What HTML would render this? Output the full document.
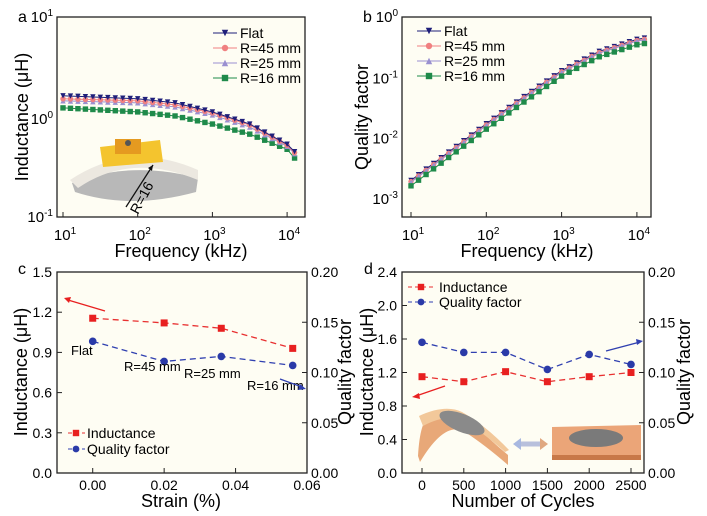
<!DOCTYPE html>
<html><head><meta charset="utf-8"><style>
body{margin:0;background:#fff;width:707px;height:511px;overflow:hidden}
svg{font-family:"Liberation Sans",sans-serif}
</style></head><body>
<svg id="s" width="707" height="511" xmlns="http://www.w3.org/2000/svg"></svg>
<script>
const S=document.getElementById('s');let h='';
function T(x,y,t,sz,anc,extra){h+=`<text x="${x}" y="${y}" font-size="${sz}" text-anchor="${anc||'start'}" ${extra||''}>${t}</text>`;}
function P(base,e){return base+'<tspan dy="-6" font-size="10">'+e+'</tspan>';}
function interp(p,x){for(let i=0;i<p.length-1;i++){if(x<=p[i+1][0]){let t=(x-p[i][0])/(p[i+1][0]-p[i][0]);return p[i][1]+t*(p[i+1][1]-p[i][1]);}}return p[p.length-1][1];}
function box(x0,y0,x1,y1){h+=`<rect x="${x0}" y="${y0}" width="${x1-x0}" height="${y1-y0}" fill="#fefdf3" stroke="#222" stroke-width="1.3"/>`;}
function mk(type,x,y,c,s){s=s||3;
 if(type=='v')h+=`<path d="M${x-s},${y-s} L${x+s},${y-s} L${x},${y+s}Z" fill="${c}"/>`;
 else if(type=='^')h+=`<path d="M${x-s},${y+s} L${x+s},${y+s} L${x},${y-s}Z" fill="${c}"/>`;
 else if(type=='o')h+=`<circle cx="${x}" cy="${y}" r="${s}" fill="${c}"/>`;
 else h+=`<rect x="${x-s}" y="${y-s}" width="${2*s}" height="${2*s}" fill="${c}"/>`;}
const ser=[['v','#1f1f7a'],['o','#f08080'],['^','#9a90d0'],['s','#1f8a4a']];
// Panel a
{const X0=57,X1=305,Y0=17,Y1=217;box(X0,Y0,X1,Y1);
 const fx=l=>63+(l-1)*74.7, fy=l=>119-l*101;
 const cur=[[[1,.23],[2,.2],[2.5,.16],[3,.07],[3.5,-.05],[4,-.25],[4.15,-.36]],
 [[1,.2],[2,.18],[2.5,.14],[3,.06],[3.5,-.06],[4,-.26],[4.15,-.37]],
 [[1,.18],[2,.16],[2.5,.12],[3,.04],[3.5,-.08],[4,-.27],[4.15,-.38]],
 [[1,.11],[2,.07],[2.5,.03],[3,-.05],[3.5,-.15],[4,-.3],[4.15,-.43]]];
 h+=`<path d="M72,183 Q130,160 198,178 L196,192 Q130,210 75,192Z" fill="#b8b8b8"/>`;
 h+=`<path d="M70,180 Q130,140 198,170 L198,180 Q130,152 78,188Z" fill="#ece8e0"/>`;
 h+=`<path d="M100,147 L160,140 L163,162 L103,167Z" fill="#f4c42e"/><rect x="115" y="139" width="26" height="15" fill="#e59a20"/><circle cx="128" cy="143" r="3" fill="#555"/>`;
 for(let k=3;k>=0;k--){let pts=[];for(let l=1;l<=4.151;l+=0.1)pts.push([fx(l),fy(interp(cur[k],l))]);
  h+=`<polyline points="${pts.map(p=>p.join(',')).join(' ')}" fill="none" stroke="${ser[k][1]}" stroke-width="1"/>`;
  pts.forEach(p=>mk(ser[k][0],p[0],p[1],ser[k][1],2.7));}
 h+=`<line x1="126" y1="207" x2="153" y2="165" stroke="#111" stroke-width="1.3"/><path d="M153,165 L148,168 L152,171Z" fill="#111"/>`;
 T(146,200,'R=16',14,'middle','transform="rotate(-62 146 200)"');
 T(53,22,P('10','1'),15,'end');T(53,124,P('10','0'),15,'end');T(53,222,P('10','-1'),15,'end');
 T(18,22,'a',16);
 [1,2,3,4].forEach(l=>{let x=fx(l);T(x+2,240,P('10',l),15,'middle');h+=`<line x1="${x}" y1="${Y1}" x2="${x}" y2="${Y1-5}" stroke="#222"/>`;});
 T(181,257,'Frequency (kHz)',18,'middle');T(28,117,'Inductance (μH)',18,'middle','transform="rotate(-90 28 117)"');
 const lab=['Flat','R=45 mm','R=25 mm','R=16 mm'];lab.forEach((t,i)=>{let y=33+i*15;h+=`<line x1="213" y1="${y}" x2="237" y2="${y}" stroke="${ser[i][1]}"/>`;mk(ser[i][0],225,y,ser[i][1],3.2);T(240,y+5,t,14);});
}
// Panel b
{const X0=402,X1=651,Y0=17,Y1=217;box(X0,Y0,X1,Y1);
 const fx=l=>411+(l-1)*75.3, fy=l=>17-l*60.3;
 const base=[[1,-2.74],[2,-1.8],[2.5,-1.35],[3,-0.92],[3.5,-0.6],[4,-0.4],[4.15,-0.37]];
 const off=[0.03,0.01,0,-0.06];
 for(let k=0;k<4;k++){let pts=[];for(let l=1;l<=4.151;l+=0.1)pts.push([fx(l),fy(interp(base,l)+off[k])]);
  h+=`<polyline points="${pts.map(p=>p.join(',')).join(' ')}" fill="none" stroke="${ser[k][1]}" stroke-width="1"/>`;
  pts.forEach(p=>mk(ser[k][0],p[0],p[1],ser[k][1],2.7));}
 T(398,22,P('10','0'),15,'end');
 [-1,-2,-3].forEach(e=>T(398,fy(e)+6,P('10',e),15,'end'));
 T(363,22,'b',16);
 [1,2,3,4].forEach(l=>{let x=fx(l);T(x+2,240,P('10',l),15,'middle');h+=`<line x1="${x}" y1="${Y1}" x2="${x}" y2="${Y1-5}" stroke="#222"/>`;});
 T(527,257,'Frequency (kHz)',18,'middle');T(368,117,'Quality factor',18,'middle','transform="rotate(-90 368 117)"');
 const lab=['Flat','R=45 mm','R=25 mm','R=16 mm'];lab.forEach((t,i)=>{let y=31+i*15;h+=`<line x1="417" y1="${y}" x2="441" y2="${y}" stroke="${ser[i][1]}"/>`;mk(ser[i][0],429,y,ser[i][1],3.2);T(444,y+5,t,14);});
}
function dual(X0,X1,Y0,Y1,fx,fyL,fyR,Ls,Qs,xs,lticks,rticks,xt,extra){
 box(X0,Y0,X1,Y1);
 if(extra)extra();
 lticks.forEach(v=>{let y=fyL(v);T(X0-5,y+5,v.toFixed(1),14,'end');h+=`<line x1="${X0}" y1="${y}" x2="${X0+5}" y2="${y}" stroke="#222"/>`;});
 rticks.forEach(v=>{let y=fyR(v);T(X1+4,y+5,v.toFixed(2),14);h+=`<line x1="${X1}" y1="${y}" x2="${X1-5}" y2="${y}" stroke="#222"/>`;});
 xt.forEach(([v,t])=>{let x=fx(v);T(x,Y1+17,t,14,'middle');h+=`<line x1="${x}" y1="${Y1}" x2="${x}" y2="${Y1-5}" stroke="#222"/>`;});
 let pl=xs.map((x,i)=>fx(x)+','+fyL(Ls[i])).join(' ');h+=`<polyline points="${pl}" fill="none" stroke="#e83030" stroke-width="1.3" stroke-dasharray="6,4"/>`;
 let pq=xs.map((x,i)=>fx(x)+','+fyR(Qs[i])).join(' ');h+=`<polyline points="${pq}" fill="none" stroke="#3040b0" stroke-width="1.3" stroke-dasharray="6,4"/>`;
 xs.forEach((x,i)=>{mk('s',fx(x),fyL(Ls[i]),'#e82020',3.5);mk('o',fx(x),fyR(Qs[i]),'#2a3aa8',3.8);});
}
// Panel c
{const X0=57,X1=307,Y0=272,Y1=473;
 const fx=v=>X0+(v+0.01)/0.07*(X1-X0), fyL=v=>Y1-v/1.5*(Y1-Y0), fyR=v=>Y1-v/0.2*(Y1-Y0);
 dual(X0,X1,Y0,Y1,fx,fyL,fyR,[1.155,1.12,1.08,0.93],[0.131,0.111,0.116,0.107],[0,0.02,0.036,0.056],[0,0.3,0.6,0.9,1.2,1.5],[0,0.05,0.1,0.15,0.2],[[0,'0.00'],[0.02,'0.02'],[0.04,'0.04'],[0.06,'0.06']]);
 T(18,274,'c',16);
 T(71,355,'Flat',13);T(124,371,'R=45 mm',13);T(184,378,'R=25 mm',13);T(247,390,'R=16 mm',13);
 h+=`<line x1="105" y1="311" x2="68" y2="300" stroke="#e82020" stroke-width="1.3"/><path d="M64,298 L71,297 L69,303Z" fill="#e82020"/>`;
 h+=`<line x1="280" y1="379" x2="302" y2="387" stroke="#3040b0" stroke-width="1.3"/><path d="M306,389 L298,390 L300,384Z" fill="#3040b0"/>`;
 h+=`<line x1="68" y1="433" x2="85" y2="433" stroke="#e83030" stroke-dasharray="4,3"/>`;mk('s',76,433,'#e82020',3.2);T(87,438,'Inductance',14);
 h+=`<line x1="68" y1="449" x2="85" y2="449" stroke="#3040b0" stroke-dasharray="4,3"/>`;mk('o',76,449,'#2a3aa8',3.4);T(87,454,'Quality factor',14);
 T(181,507,'Strain (%)',18,'middle');T(27,372,'Inductance (μH)',18,'middle','transform="rotate(-90 27 372)"');
 T(351,372,'Quality factor',18,'middle','transform="rotate(-90 351 372)"');
}
// Panel d
{const X0=402,X1=644,Y0=272,Y1=473;
 const fx=v=>422+v/2500*209, fyL=v=>Y1-v/2.4*(Y1-Y0), fyR=v=>Y1-v/0.2*(Y1-Y0);
 const photos=()=>{
 h+=`<path d="M418,456 Q420,420 430,416 Q455,405 475,425 Q490,440 508,455 L508,465 Q485,445 465,432 Q445,420 420,462 Z" fill="#e8a878"/>`;
 h+=`<path d="M419,416 Q445,404 462,412 Q485,425 509,450 L505,452 Q480,430 462,420 Q445,414 423,426Z" fill="#f2c89a"/>`;
 h+=`<ellipse cx="462" cy="423" rx="24" ry="9" fill="#8a8a8a" transform="rotate(22 462 423)"/>`;
 h+=`<path d="M518,444 L543,444" stroke="#b8c0dc" stroke-width="5"/><path d="M513,444 L521,438 L521,450Z" fill="#a8b8e0"/><path d="M548,444 L540,438 L540,450Z" fill="#e0a880"/>`;
 h+=`<path d="M552,427 L641,425 L641,456 L552,459Z" fill="#eba578"/><rect x="552" y="455" width="89" height="5" fill="#c87848"/>`;
 h+=`<ellipse cx="596" cy="438" rx="27" ry="9" fill="#7a7a7a"/>`;};
 dual(X0,X1,Y0,Y1,fx,fyL,fyR,[1.15,1.09,1.21,1.09,1.15,1.2],[0.13,0.12,0.12,0.103,0.118,0.108],[0,500,1000,1500,2000,2500],[0,0.4,0.8,1.2,1.6,2.0,2.4],[0,0.05,0.1,0.15,0.2],[[0,'0'],[500,'500'],[1000,'1000'],[1500,'1500'],[2000,'2000'],[2500,'2500']],photos);
 T(364,274,'d',16);
 h+=`<line x1="445" y1="386" x2="416" y2="396" stroke="#e82020" stroke-width="1.3"/><path d="M412,397 L419,393 L420,399Z" fill="#e82020"/>`;
 h+=`<line x1="606" y1="351" x2="640" y2="342" stroke="#3040b0" stroke-width="1.3"/><path d="M643,341 L636,339 L637,345Z" fill="#3040b0"/>`;
 h+=`<line x1="408" y1="287" x2="434" y2="287" stroke="#e83030" stroke-dasharray="4,3"/>`;mk('s',421,287,'#e82020',3.2);T(439,292,'Inductance',14);
 h+=`<line x1="408" y1="302" x2="434" y2="302" stroke="#3040b0" stroke-dasharray="4,3"/>`;mk('o',421,302,'#2a3aa8',3.4);T(439,307,'Quality factor',14);
 T(523,507,'Number of Cycles',18,'middle');T(373,372,'Inductance (μH)',18,'middle','transform="rotate(-90 373 372)"');
 T(690,372,'Quality factor',18,'middle','transform="rotate(-90 690 372)"');
}
S.innerHTML=h;
</script>
</body></html>
